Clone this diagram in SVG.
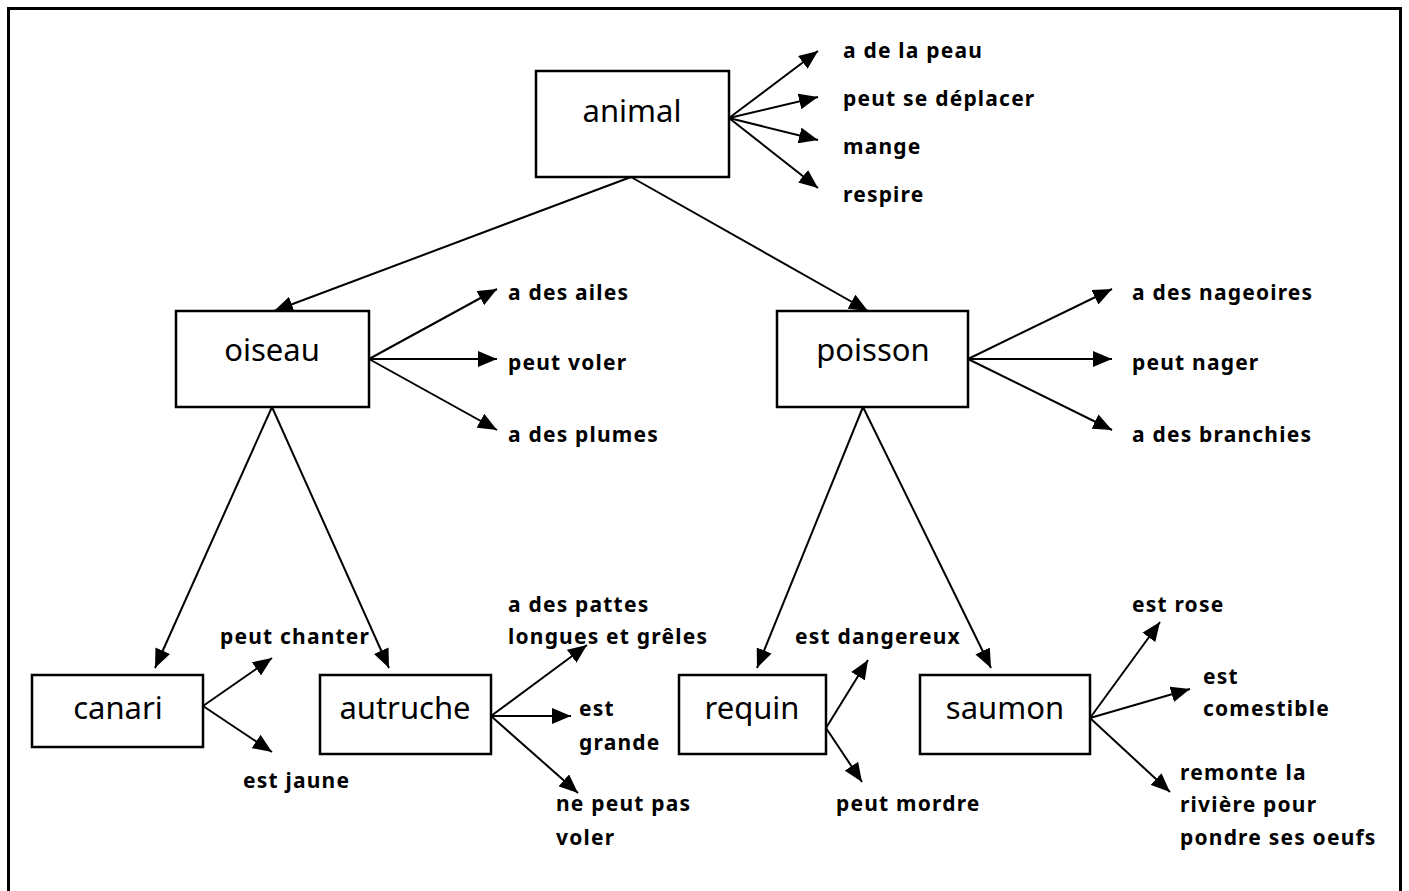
<svg xmlns="http://www.w3.org/2000/svg" width="1409" height="891" viewBox="0 0 1409 891">
<defs>
<marker id="arr" markerUnits="userSpaceOnUse" markerWidth="20" markerHeight="16" refX="19" refY="8" orient="auto">
<path d="M0,0 L19,8 L0,16 z" fill="#000"/>
</marker>
<style>
.box{fill:#fff;stroke:#000;stroke-width:2.5}
.node{font-family:"Comic Sans MS","Noto Sans",sans-serif;font-size:31px;text-anchor:middle;fill:#000}
.lbl{font-family:"Comic Sans MS","Noto Sans",sans-serif;font-size:21px;font-weight:bold;letter-spacing:1.2px;fill:#000}
#connectors line{stroke:#000;stroke-width:2;marker-end:url(#arr)}
</style>
</defs>
<rect x="0" y="0" width="1409" height="891" fill="#fff"/>
<rect x="8.5" y="8.5" width="1392" height="900" fill="none" stroke="#000" stroke-width="3"/>
<g id="connectors">
<line x1="729" y1="118" x2="818" y2="51"/>
<line x1="729" y1="118" x2="818" y2="97"/>
<line x1="729" y1="118" x2="818" y2="140"/>
<line x1="729" y1="118" x2="818" y2="188"/>
<line x1="631" y1="177" x2="274" y2="311"/>
<line x1="631" y1="177" x2="868" y2="311"/>
<line x1="369" y1="359" x2="497" y2="289"/>
<line x1="369" y1="359" x2="497" y2="359"/>
<line x1="369" y1="359" x2="497" y2="430"/>
<line x1="968" y1="359" x2="1112" y2="289"/>
<line x1="968" y1="359" x2="1112" y2="359"/>
<line x1="968" y1="359" x2="1112" y2="430"/>
<line x1="272" y1="407" x2="155" y2="668"/>
<line x1="272" y1="407" x2="389" y2="668"/>
<line x1="863" y1="407" x2="757" y2="668"/>
<line x1="863" y1="407" x2="991" y2="668"/>
<line x1="203" y1="706" x2="272" y2="658"/>
<line x1="203" y1="706" x2="272" y2="752"/>
<line x1="491" y1="716" x2="587" y2="645"/>
<line x1="491" y1="716" x2="571" y2="716"/>
<line x1="491" y1="716" x2="578" y2="793"/>
<line x1="826" y1="728" x2="868" y2="660"/>
<line x1="826" y1="728" x2="862" y2="782"/>
<line x1="1090" y1="718" x2="1160" y2="622"/>
<line x1="1090" y1="718" x2="1190" y2="689"/>
<line x1="1090" y1="718" x2="1170" y2="792"/>
</g>
<g id="animal"><rect class="box" x="536" y="71" width="193" height="106"/><text class="node" x="632" y="122">animal</text></g>
<g id="oiseau"><rect class="box" x="176" y="311" width="193" height="96"/><text class="node" x="272" y="361">oiseau</text></g>
<g id="poisson"><rect class="box" x="777" y="311" width="191" height="96"/><text class="node" x="873" y="361">poisson</text></g>
<g id="canari"><rect class="box" x="32" y="675" width="171" height="72"/><text class="node" x="118" y="719">canari</text></g>
<g id="autruche"><rect class="box" x="320" y="675" width="171" height="79"/><text class="node" x="405" y="719">autruche</text></g>
<g id="requin"><rect class="box" x="679" y="675" width="147" height="79"/><text class="node" x="752" y="719">requin</text></g>
<g id="saumon"><rect class="box" x="920" y="675" width="170" height="79"/><text class="node" x="1005" y="719">saumon</text></g>
<g id="labels">
<text class="lbl" x="843" y="58">a de la peau</text>
<text class="lbl" x="843" y="106">peut se déplacer</text>
<text class="lbl" x="843" y="154">mange</text>
<text class="lbl" x="843" y="202">respire</text>
<text class="lbl" x="508" y="300">a des ailes</text>
<text class="lbl" x="508" y="370">peut voler</text>
<text class="lbl" x="508" y="442">a des plumes</text>
<text class="lbl" x="1132" y="300">a des nageoires</text>
<text class="lbl" x="1132" y="370">peut nager</text>
<text class="lbl" x="1132" y="442">a des branchies</text>
<text class="lbl" x="220" y="644">peut chanter</text>
<text class="lbl" x="243" y="788">est jaune</text>
<text class="lbl" x="508" y="612">a des pattes</text>
<text class="lbl" x="508" y="644">longues et grêles</text>
<text class="lbl" x="579" y="716">est</text>
<text class="lbl" x="579" y="750">grande</text>
<text class="lbl" x="556" y="811">ne peut pas</text>
<text class="lbl" x="556" y="845">voler</text>
<text class="lbl" x="795" y="644">est dangereux</text>
<text class="lbl" x="836" y="811">peut mordre</text>
<text class="lbl" x="1132" y="612">est rose</text>
<text class="lbl" x="1203" y="684">est</text>
<text class="lbl" x="1203" y="716">comestible</text>
<text class="lbl" x="1180" y="780">remonte la</text>
<text class="lbl" x="1180" y="812">rivière pour</text>
<text class="lbl" x="1180" y="845">pondre ses oeufs</text>
</g>
</svg>
